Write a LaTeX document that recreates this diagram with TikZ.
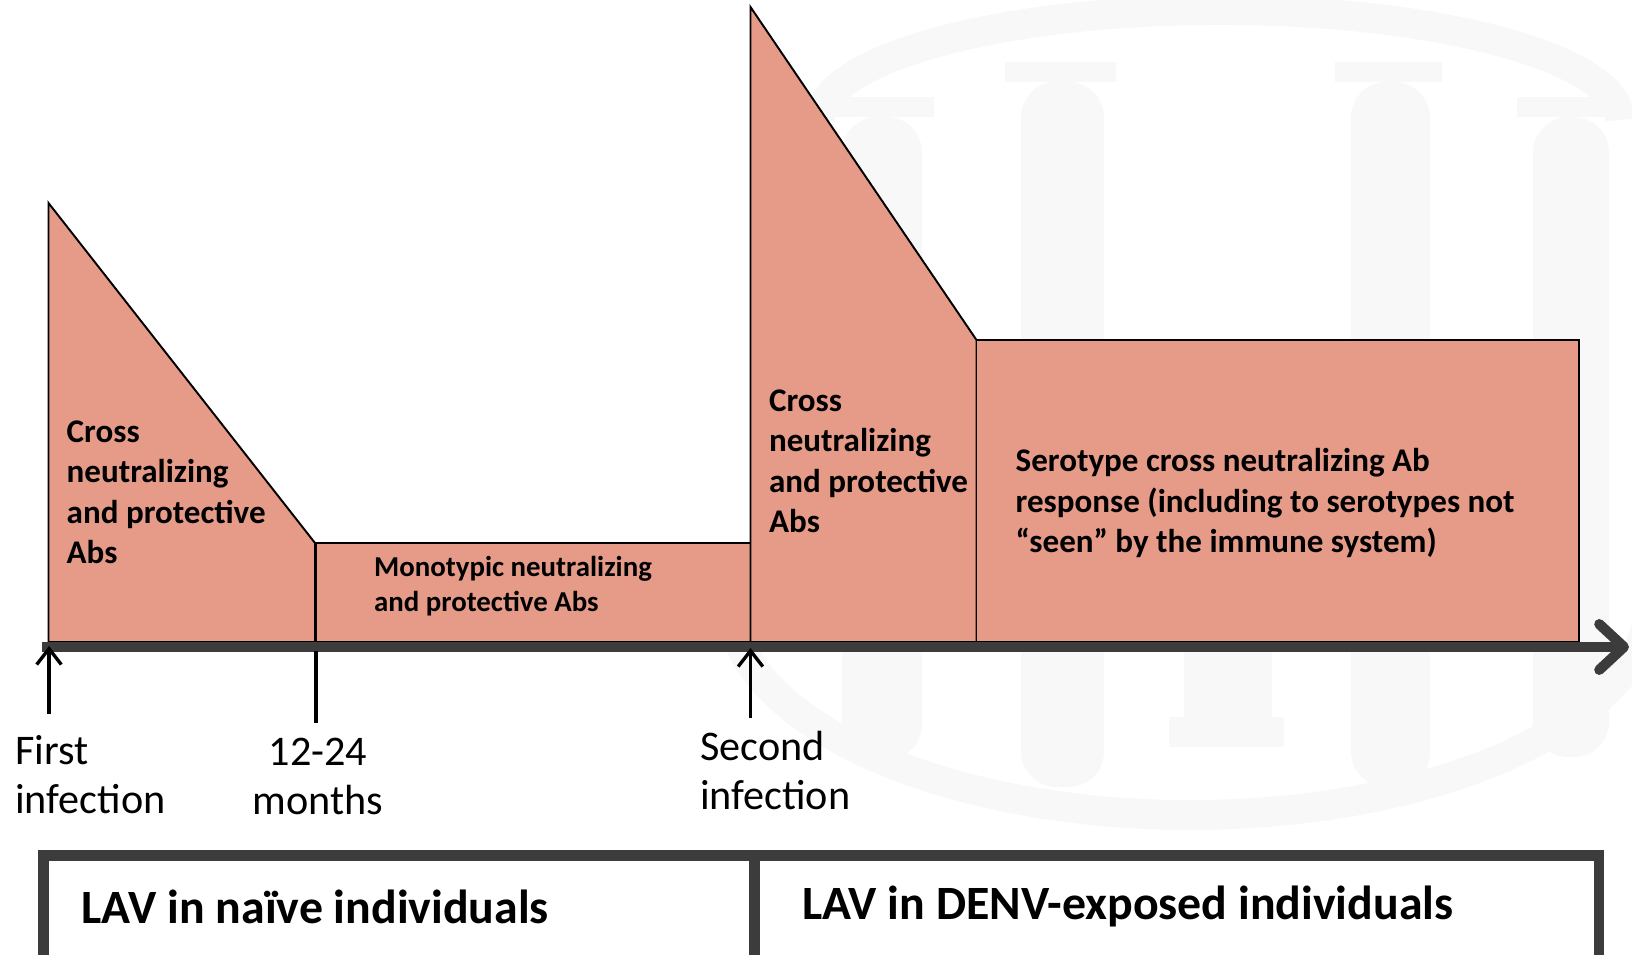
\documentclass[tikz,border=0pt]{standalone}
\usepackage{fontspec}
\setmainfont{Carlito}
\usetikzlibrary{arrows.meta, positioning}

\definecolor{abfill}{HTML}{E59B88}
\definecolor{axisgray}{HTML}{3C3C3C}
\definecolor{wmark}{HTML}{F8F8F8}

\begin{document}
\begin{tikzpicture}[x=0.01cm, y=-0.01cm,
    abshape/.style={fill=abfill, draw=black, line width=0.55pt},
    abtext/.style={anchor=base west, align=left, inner sep=0pt,
        font=\bfseries\fontsize{9.4}{11.55}\selectfont},
    monotext/.style={abtext, font=\bfseries\fontsize{8.2}{9.96}\selectfont},
    ticklabel/.style={anchor=base west, align=left, inner sep=0pt,
        font=\fontsize{12}{14.2}\selectfont},
    uparrow/.style={-{Straight Barb[length=4.5pt, width=7pt]}, line width=0.95pt},
    timeaxis/.style={draw=axisgray, line width=2.9pt,
        -{Straight Barb[round, length=7pt, width=13pt]}},
    groupbar/.style={draw=axisgray, line width=2.9pt},
    grouptext/.style={anchor=base west, inner sep=0pt,
        font=\bfseries\fontsize{13.6}{16}\selectfont}]

    \useasboundingbox (0,0) rectangle (1632,955);

    % Watermark (faint building)
    \draw[wmark, line width=8.5pt] (820,120) arc[start angle=180, end angle=360, x radius=400, y radius=110];
    \draw[wmark, line width=8.5pt] (730,600) arc[start angle=180, end angle=0, x radius=460, y radius=215];
    \foreach \cl/\cr/\ct/\cb in {842/922/117/760, 1021/1104/82/787, 1351/1430/82/787, 1533/1609/117/757} {
        \fill[wmark, rounded corners=10pt] (\cl,\ct) rectangle (\cr,\cb);
        \fill[wmark] (\cl-16,\ct-20) rectangle (\cr+12,\ct);
    }
    \fill[wmark] (1184,640) rectangle (1272,717);
    \fill[wmark] (1169,717) rectangle (1284,747);

    % Antibody levels
    \draw[abshape] (48.5,642) -- (48.5,203) -- (315,543) -- (315,642) -- cycle;
    \draw[abshape] (316,543) rectangle (751,642);
    \draw[abshape] (750.5,642) -- (750.5,7) -- (976.5,340) -- (976.5,642) -- cycle;
    \draw[abshape] (976.5,340) rectangle (1579,642);

    % (multi-line nodes sit on their last baseline)
    \node[abtext] (cross1) at (66,564) {Cross\\neutralizing\\and protective\\Abs};
    \node[monotext] (mono) at (373.5,612) {Monotypic neutralizing\\and protective Abs};
    \node[abtext] (cross2) at (768.4,533) {Cross\\neutralizing\\and protective\\Abs};
    \node[abtext] (sero) at (1015,553) {Serotype cross neutralizing Ab\\response (including to serotypes not\\“seen” by the immune system)};

    % Time axis
    \coordinate (origin) at (42,647);
    \coordinate (axisend) at (1629,647);
    \draw[timeaxis] (origin) -- (axisend);

    % Events
    \coordinate (first) at (49,714);
    \coordinate (firsttip) at (49,646);
    \coordinate (months) at (316,723);
    \coordinate (monthstop) at (316,651);
    \coordinate (second) at (750.5,718);
    \coordinate (secondtip) at (750.5,648);
    \draw[uparrow] (first) -- (firsttip);
    \draw[line width=0.95pt] (months) -- (monthstop);
    \draw[uparrow] (second) -- (secondtip);

    \node[ticklabel] (firstlbl) at (14.6,814) {First\\infection};
    \node[ticklabel, anchor=base, align=center] (monthslbl) at (318,815) {12-24\\months};
    \node[ticklabel] (secondlbl) at (699.4,810) {Second\\infection};

    % Groups
    \coordinate (gl) at (43.5,960);
    \coordinate (gtl) at (43.5,855.5);
    \coordinate (gtr) at (1599,855.5);
    \coordinate (gr) at (1599,960);
    \coordinate (gm) at (754.5,855.5);
    \coordinate (gmb) at (754.5,960);
    \draw[groupbar] (gl) -- (gtl) -- (gtr) -- (gr);
    \draw[groupbar] (gm) -- (gmb);

    \node[grouptext] (naive) at (81,924) {LAV in naïve individuals};
    \node[grouptext] (exposed) at (801.4,920) {LAV in DENV-exposed individuals};
\end{tikzpicture}
\end{document}
